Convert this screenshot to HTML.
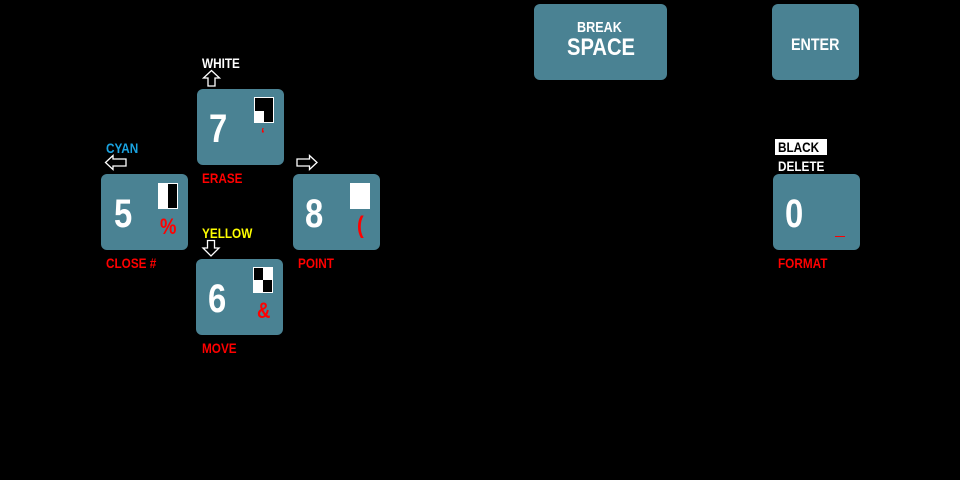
<!DOCTYPE html>
<html><head><meta charset="utf-8"><style>
body{margin:0;width:960px;height:480px;background:#000;position:relative;overflow:hidden;font-family:"Liberation Sans",sans-serif;font-weight:bold}
.k{position:absolute;background:#4a8293;border-radius:6px}
.d{position:absolute;color:#fff;font-size:40px;line-height:40px;transform:scaleX(.82);transform-origin:left top}
.t{position:absolute;font-size:14px;line-height:14px;white-space:nowrap;transform:scaleX(.84);transform-origin:left top}
.r{color:#f00}.w{color:#fff}
.b{position:absolute;width:18px;height:24px;border:1px solid #fff;background:#000}
.b i{position:absolute;background:#fff;display:block}
svg{position:absolute}
</style></head><body>
<div class="k" style="left:197px;top:89px;width:87px;height:76px"></div>
<div class="k" style="left:101px;top:174px;width:87px;height:76px"></div>
<div class="k" style="left:293px;top:174px;width:87px;height:76px"></div>
<div class="k" style="left:196px;top:259px;width:87px;height:76px"></div>
<div class="k" style="left:534px;top:4px;width:133px;height:76px"></div>
<div class="k" style="left:772px;top:4px;width:87px;height:76px"></div>
<div class="k" style="left:773px;top:174px;width:87px;height:76px"></div>

<div class="d" style="left:209px;top:109px">7</div>
<div class="d" style="left:114px;top:194px">5</div>
<div class="d" style="left:305px;top:194px">8</div>
<div class="d" style="left:208px;top:279px">6</div>
<div class="d" style="left:785px;top:194px">0</div>

<div class="b" style="left:254px;top:97px"><i style="left:0;top:13px;width:9px;height:11px"></i></div>
<div class="b" style="left:158px;top:183px"><i style="left:0;top:0;width:9px;height:24px"></i></div>
<div class="b" style="left:350px;top:183px;background:#fff"></div>
<div class="b" style="left:253px;top:267px"><i style="left:9px;top:0;width:9px;height:12px"></i><i style="left:0;top:12px;width:9px;height:12px"></i></div>

<div class="t r" style="left:261px;top:128px;font-size:16px">‘</div>
<div class="t r" style="left:160px;top:216px;font-size:22px;line-height:22px">%</div>
<div class="t r" style="left:357px;top:214px;font-size:24px;line-height:24px">(</div>
<div class="t r" style="left:257px;top:300px;font-size:22px;line-height:22px">&amp;</div>
<div style="position:absolute;left:835px;top:236px;width:10px;height:1px;background:#f00"></div>

<div class="t w" style="left:202px;top:56px">WHITE</div>
<div class="t" style="left:106px;top:141px;color:#1aa3e0">CYAN</div>
<div class="t" style="left:202px;top:226px;color:#ff0">YELLOW</div>
<div class="t r" style="left:202px;top:171px">ERASE</div>
<div class="t r" style="left:106px;top:256px">CLOSE #</div>
<div class="t r" style="left:298px;top:256px">POINT</div>
<div class="t r" style="left:202px;top:341px">MOVE</div>
<div class="t r" style="left:778px;top:256px">FORMAT</div>
<div style="position:absolute;left:775px;top:139px;width:52px;height:16px;background:#fff"></div>
<div class="t" style="left:778px;top:140px;color:#000">BLACK</div>
<div class="t w" style="left:778px;top:159px">DELETE</div>

<div class="t w" style="left:577px;top:21px;font-size:15px">BREAK</div>
<div class="t w" style="left:567px;top:36px;font-size:24px;line-height:24px">SPACE</div>
<div class="t w" style="left:791px;top:36px;font-size:17px;line-height:17px">ENTER</div>

<svg width="960" height="480" style="left:0;top:0">
<g fill="none" stroke="#fff" stroke-width="1.3">
<path d="M203.5 78 L211.5 70.5 L219.5 78 L215 78 L215 86 L208 86 L208 78 Z"/>
<path d="M105.5 162.5 L113 155.5 L113 159 L126 159 L126 166 L113 166 L113 169.5 Z"/>
<path d="M317 162.5 L309.5 155.5 L309.5 159 L297 159 L297 166 L309.5 166 L309.5 169.5 Z"/>
<path d="M203 248 L211 256 L219 248 L214.5 248 L214.5 240.5 L207.5 240.5 L207.5 248 Z"/>
</g>
</svg>
</body></html>
